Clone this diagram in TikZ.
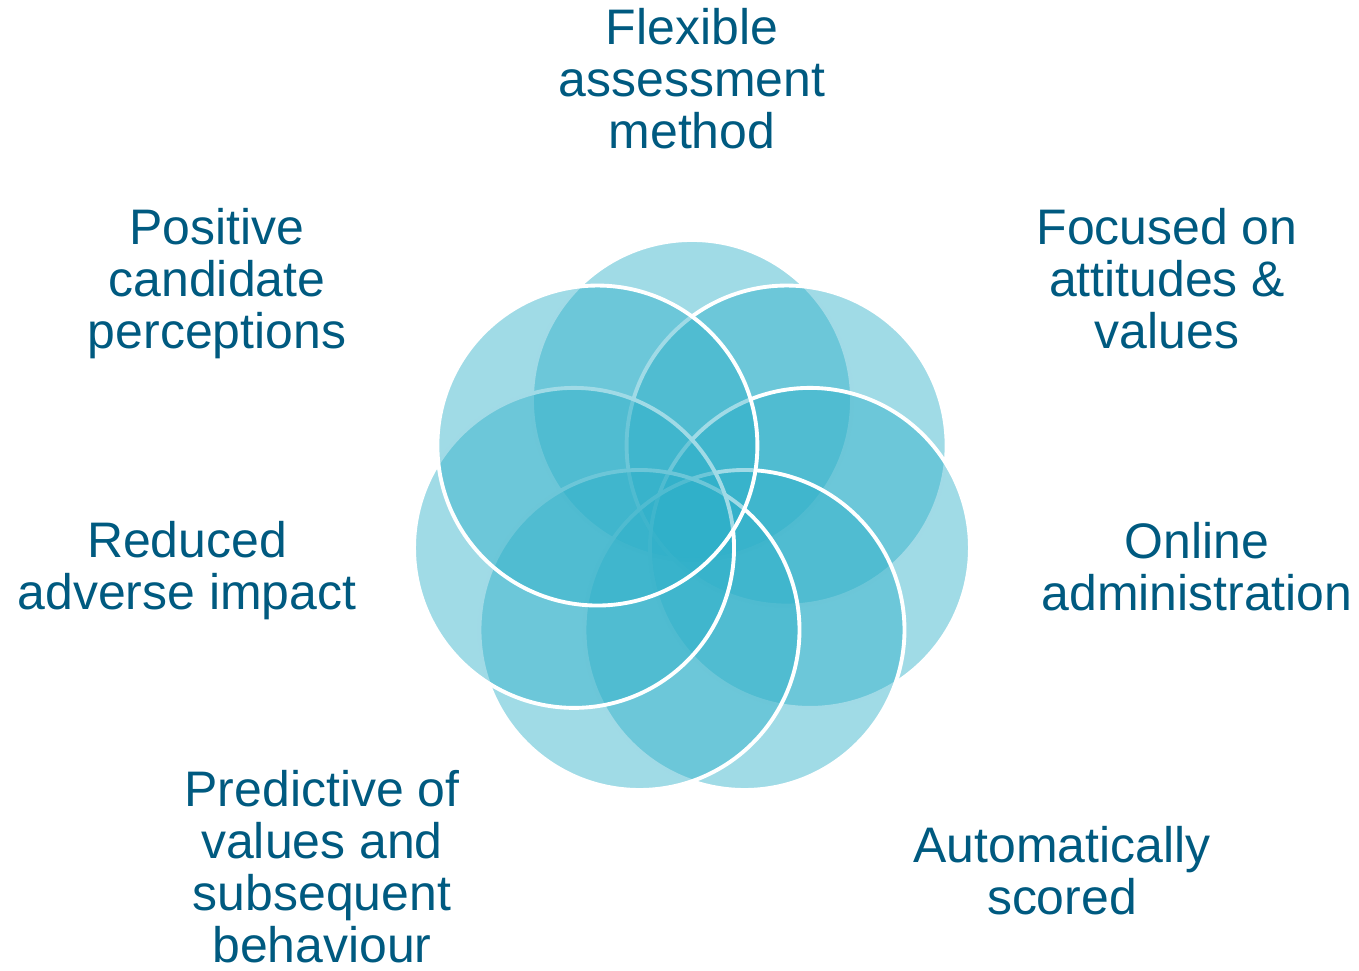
\documentclass[tikz,border=0pt]{standalone}
\usepackage{fontspec}
\setmainfont{Liberation Sans}
\usetikzlibrary{calc}
\definecolor{petal}{RGB}{45,175,200}
\definecolor{ink}{HTML}{005A80}

\begin{document}
\begin{tikzpicture}[x=0.01cm, y=0.01cm, font=\fontsize{14.2}{14.8}\selectfont, text=ink]
\useasboundingbox (0,0) rectangle (1359,971);
% seven petals, clockwise from the top, each one laid over the last
\foreach \k in {0,...,6}
  \filldraw[fill=petal, fill opacity=0.45, draw=white, line width=1.1pt]
    ($(692,450)+(90-\k*360/7:121)$) circle[radius=160];
% the labels round the flower
\foreach \n/\x/\y/\t in {flex/692/892/{Flexible\\assessment\\method},
    focus/1167/692/{Focused on\\attitudes \&\\values},
    online/1197/404/{Online\\administration},
    auto/1062/100/{Automatically\\scored},
    pred/322/104/{Predictive of\\values and\\subsequent\\behaviour},
    reduced/187/400/{Reduced\\adverse impact},
    pos/217/687/{Positive\\candidate\\perceptions}}
  \node[align=center] (\n) at (\x,\y) {\t};
\end{tikzpicture}
\end{document}
